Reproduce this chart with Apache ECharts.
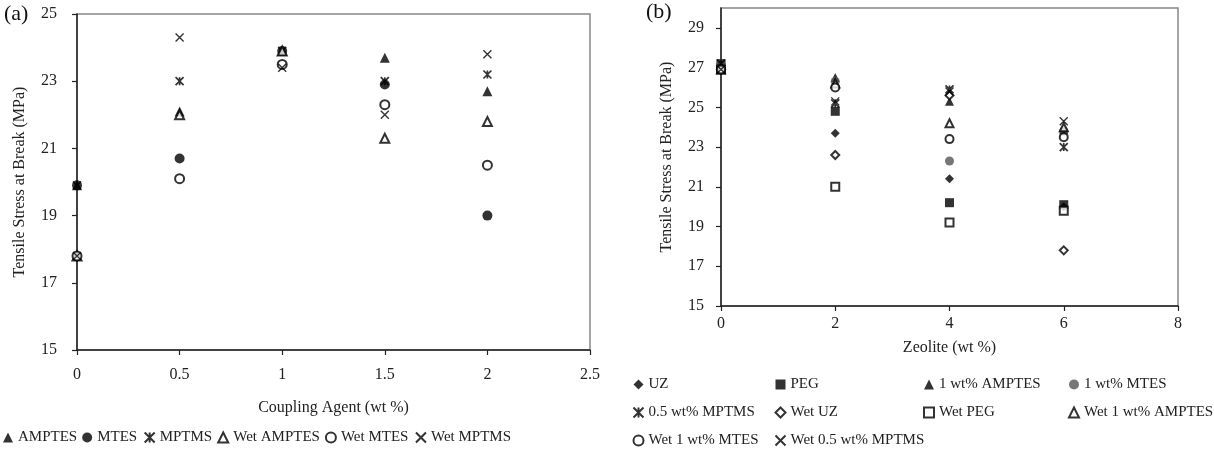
<!DOCTYPE html>
<html>
<head>
<meta charset="utf-8">
<script src="https://cdn.jsdelivr.net/npm/echarts@6/dist/echarts.min.js"></script>
<style>
  html, body { margin: 0; padding: 0; background: #fff; }
  #chart { width: 1214px; height: 457px; }
</style>
</head>
<body>
<div id="chart"></div>
<script>
// (a) coupling agent content
const couplingX = [0, 0.5, 1, 1.5, 2];
const amptes = [19.9, 22.1, 23.9, 23.7, 22.7];
const mtes = [19.9, 20.7, 23.9, 22.9, 19.0];
const mptms = [19.9, 23.0, 23.9, 23.0, 23.2];
const wetAmptes = [17.8, 22.0, 23.9, 21.3, 21.8];
const wetMtes = [17.8, 20.1, 23.5, 22.3, 20.5];
const wetMptms = [17.8, 24.3, 23.4, 22.0, 23.8];

// (b) zeolite content
const zeoliteX = [0, 2, 4, 6];
const uz = [27.2, 23.7, 21.4, 20.0];
const peg = [27.2, 24.8, 20.2, 20.1];
const amptes1 = [27.2, 26.5, 25.3, 23.9];
const mtes1 = [27.2, 26.3, 22.3, 23.8];
const mptms05 = [27.2, 25.2, 25.9, 23.0];
const wetUz = [26.9, 22.6, 25.6, 17.8];
const wetPeg = [26.9, 21.0, 19.2, 19.8];
const wetAmptes1 = [26.9, 26.2, 24.2, 24.0];
const wetMtes1 = [26.9, 26.0, 23.4, 23.5];
const wetMptms05 = [26.9, 25.3, 25.8, 24.3];

const yTicksA = [15, 17, 19, 21, 23, 25];
const yTicksB = [15, 17, 19, 21, 23, 25, 27, 29];

const serif = 'Liberation Serif';
const crossPath = 'path://M0,0L10,10M10,0L0,10';
// excel "star" marker: a cross with a vertical stroke through it
const starPath = 'path://M0,0L10,10M10,0L0,10M5,0L5,10';

function pts(xs, ys) {
  return xs.map((x, i) => [x, ys[i]]);
}

// symbol styles
const sym = {
  tri: { symbol: 'triangle', itemStyle: { color: '#000' } },
  dot: { symbol: 'circle', itemStyle: { color: '#000' } },
  grayDot: { symbol: 'circle', itemStyle: { color: '#555' } },
  sq: { symbol: 'rect', itemStyle: { color: '#000' } },
  dia: { symbol: 'diamond', itemStyle: { color: '#000' } },
  star: { symbol: starPath, itemStyle: { color: 'none', borderColor: '#000', borderWidth: 1.7 } },
  cross: { symbol: crossPath, itemStyle: { color: 'none', borderColor: '#000', borderWidth: 1.4 } },
  eTri: { symbol: 'emptyTriangle', itemStyle: { color: '#000', borderWidth: 1.2 } },
  eDot: { symbol: 'emptyCircle', itemStyle: { color: '#000', borderWidth: 1.2 } },
  eSq: { symbol: 'emptyRect', itemStyle: { color: '#000', borderWidth: 1.2 } },
  eDia: { symbol: 'emptyDiamond', itemStyle: { color: '#000', borderWidth: 1.2 } }
};

function scatter(name, style, data, idx, size) {
  return {
    name: name,
    type: 'scatter',
    xAxisIndex: idx,
    yAxisIndex: idx,
    symbol: style.symbol,
    symbolSize: size,
    itemStyle: style.itemStyle,
    data: data,
    animation: false
  };
}

const seriesA = [
  scatter('AMPTES', sym.tri, pts(couplingX, amptes), 0, 10),
  scatter('MTES', sym.dot, pts(couplingX, mtes), 0, 10),
  scatter('MPTMS', sym.star, pts(couplingX, mptms), 0, 8),
  scatter('Wet AMPTES', sym.eTri, pts(couplingX, wetAmptes), 0, 9),
  scatter('Wet MTES', sym.eDot, pts(couplingX, wetMtes), 0, 9),
  scatter('Wet MPTMS', sym.cross, pts(couplingX, wetMptms), 0, 8)
];

const seriesB = [
  scatter('UZ', sym.dia, pts(zeoliteX, uz), 1, 9),
  scatter('PEG', sym.sq, pts(zeoliteX, peg), 1, 9),
  scatter('1 wt% AMPTES', sym.tri, pts(zeoliteX, amptes1), 1, 9),
  scatter('1 wt% MTES', sym.grayDot, pts(zeoliteX, mtes1), 1, 9),
  scatter('0.5 wt% MPTMS', sym.star, pts(zeoliteX, mptms05), 1, 8),
  scatter('Wet UZ', sym.eDia, pts(zeoliteX, wetUz), 1, 8),
  scatter('Wet PEG', sym.eSq, pts(zeoliteX, wetPeg), 1, 8),
  scatter('Wet 1 wt% AMPTES', sym.eTri, pts(zeoliteX, wetAmptes1), 1, 8),
  scatter('Wet 1 wt% MTES', sym.eDot, pts(zeoliteX, wetMtes1), 1, 8),
  scatter('Wet 0.5 wt% MPTMS', sym.cross, pts(zeoliteX, wetMptms05), 1, 8)
];

const labelStyle = { fontFamily: serif, fontSize: 16, color: '#222' };
const nameStyle = { fontFamily: serif, fontSize: 16, color: '#222' };
const axisLine = { show: true, lineStyle: { color: '#222', width: 1.5 } };
const axisTick = { show: true, inside: false, length: 5, lineStyle: { color: '#222', width: 1.2 } };

const legendText = { fontFamily: serif, fontSize: 15, color: '#222' };
const legendBase = {
  itemWidth: 10,
  itemHeight: 10,
  itemGap: 10,
  textStyle: legendText,
  selectedMode: false,
  padding: 0
};

// right-hand legend laid out in four columns
const legendColsB = [
  { left: 631, names: ['UZ', '0.5 wt% MPTMS', 'Wet 1 wt% MTES'] },
  { left: 773, names: ['PEG', 'Wet UZ', 'Wet 0.5 wt% MPTMS'] },
  { left: 923, names: ['1 wt% AMPTES', 'Wet PEG'] },
  { left: 1068, names: ['1 wt% MTES', 'Wet 1 wt% AMPTES'] }
];

const chart = echarts.init(document.getElementById('chart'), null, { renderer: 'canvas' });
chart.setOption({
  backgroundColor: '#fff',
  animation: false,
  grid: [
    { left: 77, top: 14, width: 513, height: 336, show: true, borderColor: '#888', borderWidth: 1.5, backgroundColor: 'transparent' },
    { left: 721, top: 8, width: 457, height: 298, show: true, borderColor: '#888', borderWidth: 1.5, backgroundColor: 'transparent' }
  ],
  xAxis: [
    {
      gridIndex: 0, type: 'value', min: 0, max: 2.5, interval: 0.5,
      name: 'Coupling Agent (wt %)', nameLocation: 'middle', nameGap: 50, nameTextStyle: nameStyle,
      axisLine: axisLine, axisTick: axisTick, splitLine: { show: false },
      axisLabel: Object.assign({ margin: 17 }, labelStyle)
    },
    {
      gridIndex: 1, type: 'value', min: 0, max: 8, interval: 2,
      name: 'Zeolite (wt %)', nameLocation: 'middle', nameGap: 34, nameTextStyle: nameStyle,
      axisLine: axisLine, axisTick: axisTick, splitLine: { show: false },
      axisLabel: Object.assign({ margin: 10 }, labelStyle)
    }
  ],
  yAxis: [
    {
      gridIndex: 0, type: 'value', min: yTicksA[0], max: yTicksA[yTicksA.length - 1], interval: 2,
      name: 'Tensile Stress at Break (MPa)', nameLocation: 'middle', nameGap: 49, nameTextStyle: nameStyle,
      axisLine: axisLine, axisTick: axisTick, splitLine: { show: false },
      axisLabel: Object.assign({ margin: 20 }, labelStyle)
    },
    {
      gridIndex: 1, type: 'value', min: yTicksB[0], max: 30, interval: 2,
      name: 'Tensile Stress at Break (MPa)', nameLocation: 'middle', nameGap: 46, nameTextStyle: nameStyle,
      axisLine: axisLine, axisTick: axisTick, splitLine: { show: false },
      axisLabel: Object.assign({ margin: 17, showMaxLabel: false }, labelStyle)
    }
  ],
  legend: [
    Object.assign({}, legendBase, {
      left: 3, top: 430, orient: 'horizontal', itemGap: 5,
      data: seriesA.map(s => s.name)
    })
  ].concat(legendColsB.map(c => Object.assign({}, legendBase, {
    left: c.left, top: 377, orient: 'vertical', itemGap: 13,
    data: c.names
  }))),
  graphic: [
    { type: 'text', left: 4, top: 3, style: { text: '(a)', font: '22px "Liberation Serif"', fill: '#111' } },
    { type: 'text', left: 646, top: 1, style: { text: '(b)', font: '22px "Liberation Serif"', fill: '#111' } }
  ],
  series: seriesA.concat(seriesB)
});
</script>
</body>
</html>
